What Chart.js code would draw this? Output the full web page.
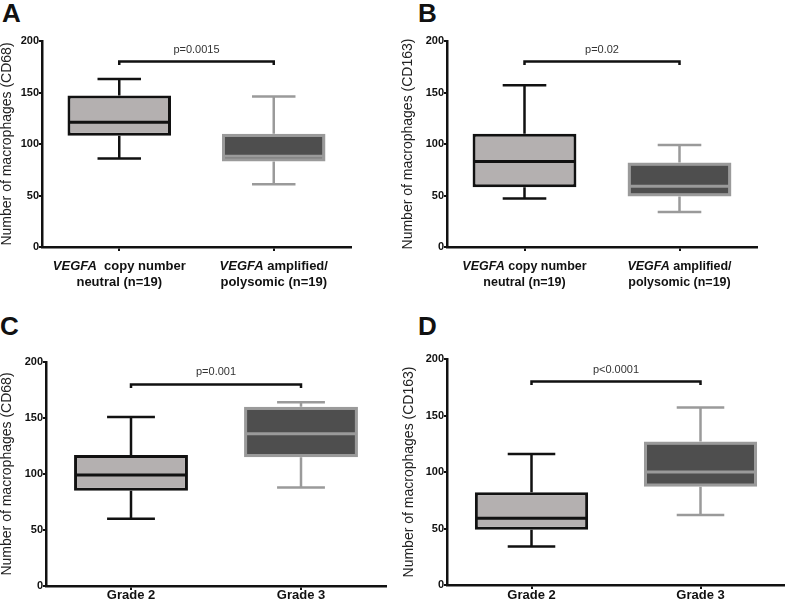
<!DOCTYPE html>
<html><head><meta charset="utf-8">
<script src="https://cdn.jsdelivr.net/npm/chart.js@4"></script>
<style>
body{margin:0;background:#fff;width:785px;height:602px;overflow:hidden;position:relative;font-family:"Liberation Sans",Arial,sans-serif}
canvas{position:absolute}
.lt{position:absolute;font:bold 26px/26px "Liberation Sans",Arial,sans-serif;color:#111}
</style></head><body>
<div class="lt" style="left:2px;top:0px">A</div>
<div class="lt" style="left:418px;top:0px">B</div>
<div class="lt" style="left:0px;top:313px">C</div>
<div class="lt" style="left:418px;top:313px">D</div>
<canvas id="cA" width="390" height="270" style="left:0px;top:30px"></canvas>
<canvas id="cB" width="384" height="270" style="left:401px;top:30px"></canvas>
<canvas id="cC" width="390" height="262" style="left:0px;top:340px"></canvas>
<canvas id="cD" width="383" height="262" style="left:402px;top:340px"></canvas>
<script>
// ---- data ----
const catsVEGFA = ['VEGFA copy number neutral (n=19)', 'VEGFA amplified/polysomic (n=19)'];
const catsGrade = ['Grade 2', 'Grade 3'];
const linesA = [[['VEGFA', '  copy number'], ['', 'neutral (n=19)']], [['VEGFA', ' amplified/'], ['', 'polysomic (n=19)']]];
const linesB = [[['VEGFA', ' copy number'], ['', 'neutral (n=19)']], [['VEGFA', ' amplified/'], ['', 'polysomic (n=19)']]];
const linesGrade = [[['', 'Grade 2']], [['', 'Grade 3']]];
const yTicks = [0, 50, 100, 150, 200];
const bracketValue = 180;

const minA = [86, 61];  const q1A = [108, 83]; const medA = [121, 88];  const q3A = [147, 110]; const maxA = [163, 146];
const minB = [47, 34];  const q1B = [58, 49];  const medB = [83, 59];   const q3B = [110, 82];  const maxB = [157, 99];
const minC = [60, 88];  const q1C = [85, 115]; const medC = [99, 136];  const q3C = [117, 160]; const maxC = [151, 164];
const minD = [34, 62];  const q1D = [49, 87];  const medD = [59, 100];  const q3D = [82, 127];  const maxD = [116, 157];

const pA = 'p=0.0015', pB = 'p=0.02', pC = 'p=0.001', pD = 'p<0.0001';
const titleCD68 = 'Number of macrophages (CD68)';
const titleCD163 = 'Number of macrophages (CD163)';

// ---- styles ----
const FAM = '"Liberation Sans", Arial, sans-serif';
const fills = ['#b4b0b0', '#4e4e4e'];
const strokes = ['#111111', '#9a9a9a'];

function makePanel(id, c) {
  const el = document.getElementById(id);
  const W = el.width, H = el.height;
  const plug = {
    id: 'box_' + id,
    beforeDatasetsDraw(chart) {
      const g = chart.ctx, y = chart.scales.y, meta = chart.getDatasetMeta(0);
      meta.data.forEach((bar, i) => {
        const x = bar.x, cap = bar.width * 0.21;
        g.save();
        g.strokeStyle = strokes[i]; g.lineWidth = 2.5;
        const yMax = y.getPixelForValue(c.max[i]), yMin = y.getPixelForValue(c.min[i]);
        const yQ3 = y.getPixelForValue(c.q3[i]), yQ1 = y.getPixelForValue(c.q1[i]);
        g.beginPath();
        g.moveTo(x, yQ3); g.lineTo(x, yMax);
        g.moveTo(x - cap, yMax); g.lineTo(x + cap, yMax);
        g.moveTo(x, yQ1); g.lineTo(x, yMin);
        g.moveTo(x - cap, yMin); g.lineTo(x + cap, yMin);
        g.stroke();
        g.restore();
      });
    },
    afterDatasetsDraw(chart) {
      const g = chart.ctx, y = chart.scales.y, xs = chart.scales.x, meta = chart.getDatasetMeta(0);
      meta.data.forEach((bar, i) => {
        const ym = y.getPixelForValue(c.med[i]);
        g.save(); g.strokeStyle = strokes[i]; g.lineWidth = 3;
        g.beginPath(); g.moveTo(bar.x - bar.width / 2 + 1.5, ym); g.lineTo(bar.x + bar.width / 2 - 1.5, ym); g.stroke();
        g.restore();
      });
      const x0 = xs.getPixelForValue(0), x1 = xs.getPixelForValue(1), yb = y.getPixelForValue(bracketValue);
      g.save();
      g.strokeStyle = '#111'; g.lineWidth = 2.5;
      g.beginPath(); g.moveTo(x0, yb + 3.5); g.lineTo(x0, yb); g.lineTo(x1, yb); g.lineTo(x1, yb + 3.5); g.stroke();
      g.fillStyle = '#333'; g.font = '11px ' + FAM; g.textAlign = 'center'; g.textBaseline = 'middle';
      g.fillText(c.p, (x0 + x1) / 2, yb - 12);
      g.restore();
    },
    afterDraw(chart) {
      const g = chart.ctx, xs = chart.scales.x, bottom = chart.chartArea.bottom;
      g.save(); g.fillStyle = '#111'; g.textBaseline = 'alphabetic'; g.textAlign = 'left';
      c.lines.forEach((lines, i) => {
        const x = xs.getPixelForValue(i);
        lines.forEach((parts, j) => {
          const fi = 'italic bold ' + c.lsize + 'px ' + FAM, fn = 'bold ' + c.lsize + 'px ' + FAM;
          g.font = fi; const w1 = g.measureText(parts[0]).width;
          g.font = fn; const w2 = g.measureText(parts[1]).width;
          let sx = x - (w1 + w2) / 2; const by = bottom + c.base[j];
          g.font = fi; g.fillText(parts[0], sx, by);
          g.font = fn; g.fillText(parts[1], sx + w1, by);
        });
      });
      g.restore();
    }
  };
  return new Chart(el, {
    type: 'bar',
    data: {
      labels: c.cats,
      datasets: [{
        data: c.q1.map((v, i) => [v, c.q3[i]]),
        backgroundColor: fills, borderColor: strokes, borderWidth: 3, borderSkipped: false,
        barPercentage: 0.67, categoryPercentage: 1
      }]
    },
    options: {
      responsive: false, animation: false, devicePixelRatio: 1,
      layout: { padding: { top: c.padTop, right: c.padRight, left: 0, bottom: 0 } },
      plugins: { legend: { display: false }, tooltip: { enabled: false } },
      scales: {
        x: {
          type: 'category', offset: true,
          grid: { offset: false, drawOnChartArea: false, drawTicks: true, tickLength: 4, color: '#111', lineWidth: 2 },
          border: { display: true, color: '#111', width: 2.5 },
          ticks: { display: false },
          afterFit: s => { s.height = c.xH; }
        },
        y: {
          min: 0, max: 200,
          afterBuildTicks: s => { s.ticks = yTicks.map(v => ({ value: v })); },
          grid: { drawOnChartArea: false, tickLength: 3, color: '#111', lineWidth: 2 },
          border: { display: true, color: '#111', width: 2.5 },
          ticks: { color: '#111', padding: 0, font: { family: FAM, size: 11, weight: 'bold' } },
          title: { display: true, text: c.title, color: '#222', padding: { top: -1, bottom: 0 }, font: { family: FAM, size: 14 } },
          afterFit: s => { s.width = c.yW; }
        }
      }
    },
    plugins: [plug]
  });
}

makePanel('cA', { cats: catsVEGFA, lines: linesA, min: minA, q1: q1A, med: medA, q3: q3A, max: maxA, p: pA, title: titleCD68,
  padTop: 11, padRight: 39, yW: 42, xH: 53, lsize: 13, base: [22.5, 38.5] });
makePanel('cB', { cats: catsVEGFA, lines: linesB, min: minB, q1: q1B, med: medB, q3: q3B, max: maxB, p: pB, title: titleCD163,
  padTop: 11, padRight: 28, yW: 46, xH: 53, lsize: 12.5, base: [23, 39] });
makePanel('cC', { cats: catsGrade, lines: linesGrade, min: minC, q1: q1C, med: medC, q3: q3C, max: maxC, p: pC, title: titleCD68,
  padTop: 22, padRight: 4, yW: 46, xH: 16, lsize: 13, base: [13] });
makePanel('cD', { cats: catsGrade, lines: linesGrade, min: minD, q1: q1D, med: medD, q3: q3D, max: maxD, p: pD, title: titleCD163,
  padTop: 19, padRight: 0, yW: 45, xH: 17, lsize: 13, base: [14] });
</script>
</body></html>
